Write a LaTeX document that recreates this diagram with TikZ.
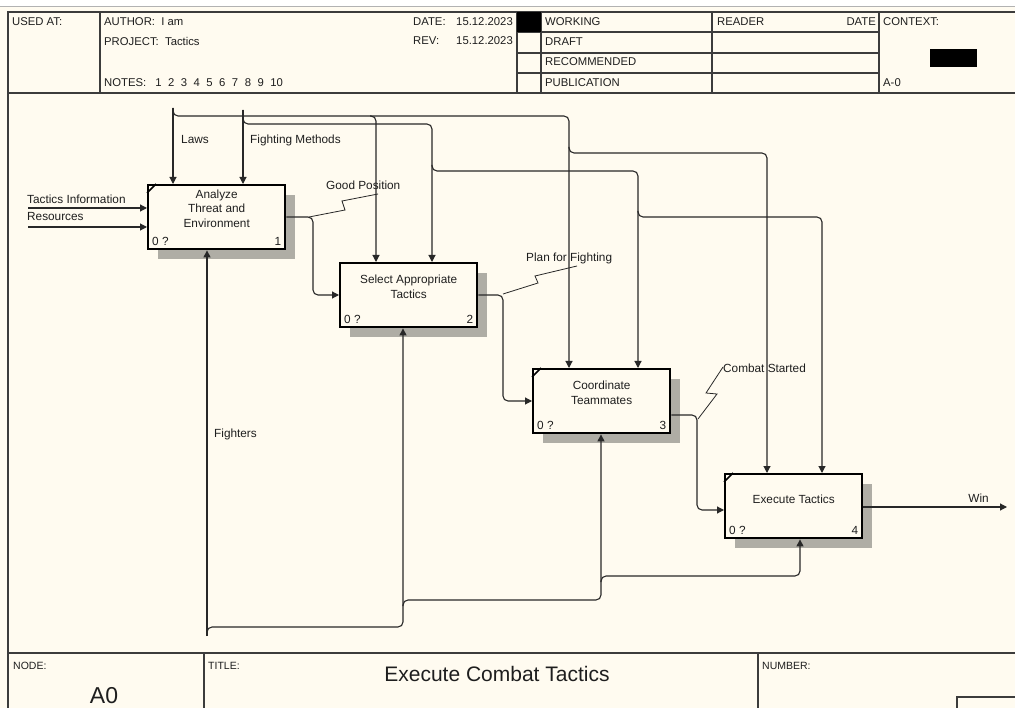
\documentclass[tikz,border=0pt]{standalone}
\usepackage{fontspec}
\setmainfont{Liberation Sans}
\usetikzlibrary{arrows.meta,shadows,calc}
\definecolor{bgc}{RGB}{255,251,240}
\definecolor{ln}{RGB}{40,40,40}
\definecolor{fr}{RGB}{60,60,60}
\definecolor{tx}{RGB}{30,30,30}
\definecolor{shd}{RGB}{175,173,165}
\newcommand\fsm{\fontsize{11.8}{14.5}\selectfont}
\newcommand\fhd{\fontsize{11.3}{13}\selectfont}
\newcommand\fft{\fontsize{10.5}{12}\selectfont}
\begin{document}
\begin{tikzpicture}[x=1pt,y=-1pt,
  box/.style={draw=black, line width=2.4pt, fill=bgc, minimum width=137pt, minimum height=64pt,
    inner sep=0pt, anchor=north west,
    general shadow={fill=shd, shadow xshift=10pt, shadow yshift=-10pt}},
  btxt/.style={font=\fsm, text=tx, align=center, inner sep=0pt},
  corner/.style={font=\fsm, text=tx, inner sep=0pt},
  lbl/.style={font=\fsm, text=tx, inner sep=0pt, anchor=west},
  hd/.style={font=\fhd, text=tx, inner sep=0pt, anchor=west},
  ft/.style={font=\fft, text=tx, inner sep=0pt, anchor=west},
  arr/.style={draw=ln, line width=1.1pt, -{Triangle[length=7pt,width=7pt]}},
  rc/.style={rounded corners=5pt},
  lead/.style={draw=ln, line width=0.8pt},
  frm/.style={draw=fr, line width=1.5pt},
  cornermark/.style={draw=black, line width=1.6pt}
]
\useasboundingbox (0,0) rectangle (1015,708);
\fill[bgc] (0,0) rectangle (1015,708);
\fill[white] (0,0) rectangle (1015,7);

% ---------- frame ----------
\draw[gray!60, line width=1pt] (0,7) -- (1015,7);
\draw[frm] (8,715) -- (8,12) -- (1020,12);
\draw[frm] (8,93) -- (1020,93);
\draw[frm] (8,653) -- (1020,653);
\foreach \x in {100,517,541,712,879} \draw[frm] (\x,12) -- (\x,93);
\foreach \y in {32,53,73} \draw[frm] (517,\y) -- (879,\y);
\fill[black] (517,12) rectangle (541,32);
\fill[black] (930,49) rectangle (977,67);
\draw[frm] (204,653) -- (204,715);
\draw[frm] (758,653) -- (758,715);
\draw[frm] (957,715) -- (957,697) -- (1020,697);

% ---------- header texts ----------
\node[hd] (usedat) at (12,22) {USED AT:};
\node[hd] (author) at (104,22) {AUTHOR:\ \ I am};
\node[hd] (project) at (104,41) {PROJECT:\ \ Tactics};
\node[hd] (notes) at (104,83) {NOTES:\hspace{9pt}1\hspace{6.5pt}2\hspace{6.5pt}3\hspace{6.5pt}4\hspace{6.5pt}5\hspace{6.5pt}6\hspace{6.5pt}7\hspace{6.5pt}8\hspace{6.5pt}9\hspace{6.5pt}10};
\node[hd] (datel) at (413,22) {DATE:};
\node[hd, anchor=east] (datev) at (513,22) {15.12.2023};
\node[hd] (revl) at (413,41) {REV:};
\node[hd, anchor=east] (revv) at (513,41) {15.12.2023};
\node[hd] (working) at (545,22) {WORKING};
\node[hd] (draft) at (545,42) {DRAFT};
\node[hd] (recom) at (545,62) {RECOMMENDED};
\node[hd] (publ) at (545,83) {PUBLICATION};
\node[hd] (reader) at (717,22) {READER};
\node[hd, anchor=east] (rdate) at (876,22) {DATE};
\node[hd] (context) at (883,22) {CONTEXT:};
\node[hd] (azero) at (883,83) {A-0};

% ---------- footer texts ----------
\node[ft] (nodel) at (13,666) {NODE:};
\node[ft] (titlel) at (208,666) {TITLE:};
\node[ft] (numberl) at (762,666) {NUMBER:};
\node[font=\fontsize{23}{25}\selectfont, text=tx, inner sep=0pt] (nodev) at (104,696) {A0};
\node[font=\fontsize{21}{24}\selectfont, text=tx, inner sep=0pt] (titlev) at (497,674) {Execute Combat Tactics};

% ---------- boxes ----------
\node[box] (b1) at (147,184) {};
\node[box] (b2) at (339,262) {};
\node[box] (b3) at (532,368) {};
\node[box] (b4) at (724,473) {};

\foreach \b in {b1,b3,b4}
  \draw[cornermark] ([yshift=-9pt]\b.north west) -- ([xshift=9pt]\b.north west);
\foreach \b/\n in {b1/1,b2/2,b3/3,b4/4} {
  \node[corner, anchor=west] at ([xshift=5pt,yshift=9pt]\b.south west) {0 ?};
  \node[corner, anchor=east] at ([xshift=-5pt,yshift=9pt]\b.south east) {\n};
}
\node[btxt] (t1) at ([yshift=8.5pt]b1.center) {Analyze\\Threat and\\Environment};
\node[btxt] (t2) at ([yshift=8.5pt]b2.center) {Select Appropriate\\Tactics};
\node[btxt] (t3) at ([yshift=8.5pt]b3.center) {Coordinate\\Teammates};
\node[btxt] (t4) at ([yshift=7pt]b4.center) {Execute Tactics};

% ---------- coordinates ----------
\coordinate (tiS) at (28,208);
\coordinate (reS) at (28,227);
\coordinate (laT) at (173,108);
\coordinate (fmT) at (243,110);
\coordinate (fiB) at (207,636);
\coordinate (winE) at (1007,507);
\coordinate (la1) at (569,116);
\coordinate (la2) at (376,116);
\coordinate (la3) at (569,153);
\coordinate (la4) at (767,153);
\coordinate (fm1) at (432,124);
\coordinate (fm2) at (432,171);
\coordinate (fm3) at (638,171);
\coordinate (fm4) at (638,217);
\coordinate (fm5) at (822,217);
\coordinate (fi1) at (207,627);
\coordinate (fi2) at (403,627);
\coordinate (fi3) at (403,600);
\coordinate (fi4) at (601,600);
\coordinate (fi5) at (601,576);
\coordinate (fi6) at (800,576);
\coordinate (gp1) at (313,217);
\coordinate (gp2) at (313,295);
\coordinate (pl1) at (503,295);
\coordinate (pl2) at (503,401);
\coordinate (cs1) at (697,415);
\coordinate (cs2) at (697,510);

% ---------- inputs ----------
\draw[arr] (tiS) -- (tiS -| b1.west);
\draw[arr] (reS) -- (reS -| b1.west);

% ---------- controls ----------
\draw[arr] (laT) -- (laT |- b1.north);
\draw[arr] (fmT) -- (fmT |- b1.north);
\draw[arr,rc] (laT) |- (la1) -- (la1 |- b3.north);
\draw[arr,rc] ([xshift=-6pt]la2) -- (la2) -- (la2 |- b2.north);
\draw[arr,rc] ([yshift=6pt]la3) -- (la3) -- (la4) -- (la4 |- b4.north);
\draw[arr,rc] (fmT) |- (fm1) -- (fm1 |- b2.north);
\draw[arr,rc] ([yshift=6pt]fm2) -- (fm2) -- (fm3) -- (fm3 |- b3.north);
\draw[arr,rc] ([yshift=6pt]fm4) -- (fm4) -- (fm5) -- (fm5 |- b4.north);

% ---------- mechanisms ----------
\draw[arr] (fiB) -- (fiB |- b1.south);
\draw[arr,rc] ([yshift=-6pt]fi1) -- (fi1) -- (fi2) -- (fi2 |- b2.south);
\draw[arr,rc] ([yshift=-6pt]fi3) -- (fi3) -- (fi4) -- (fi4 |- b3.south);
\draw[arr,rc] ([yshift=-6pt]fi5) -- (fi5) -- (fi6) -- (fi6 |- b4.south);

% ---------- outputs ----------
\draw[arr,rc] (gp1 -| b1.east) -- (gp1) -- (gp2) -- (gp2 -| b2.west);
\draw[arr,rc] (pl1 -| b2.east) -- (pl1) -- (pl2) -- (pl2 -| b3.west);
\draw[arr,rc] (cs1 -| b3.east) -- (cs1) -- (cs2) -- (cs2 -| b4.west);
\draw[arr] (winE -| b4.east) -- (winE);

% ---------- leaders ----------
\draw[lead] (309,217) -- (345,210) -- (342,201) -- (378,194);
\draw[lead] (503,294) -- (538,283) -- (535,276) -- (577,266);
\draw[lead] (698,419) -- (717,394) -- (706,393) -- (723,367);

% ---------- labels ----------
\node[lbl] (lti) at (27,199) {Tactics Information};
\node[lbl] (lre) at (27,217) {Resources};
\node[lbl] (lla) at (181,140) {Laws};
\node[lbl] (lfm) at (250,140) {Fighting Methods};
\node[lbl] (lgp) at (326,185) {Good Position};
\node[lbl] (lpl) at (526,258) {Plan for Fighting};
\node[lbl] (lcs) at (723,368) {Combat Started};
\node[lbl] (lfi) at (214,434) {Fighters};
\node[lbl, anchor=east] (lwin) at (989,498) {Win};
\end{tikzpicture}
\end{document}
